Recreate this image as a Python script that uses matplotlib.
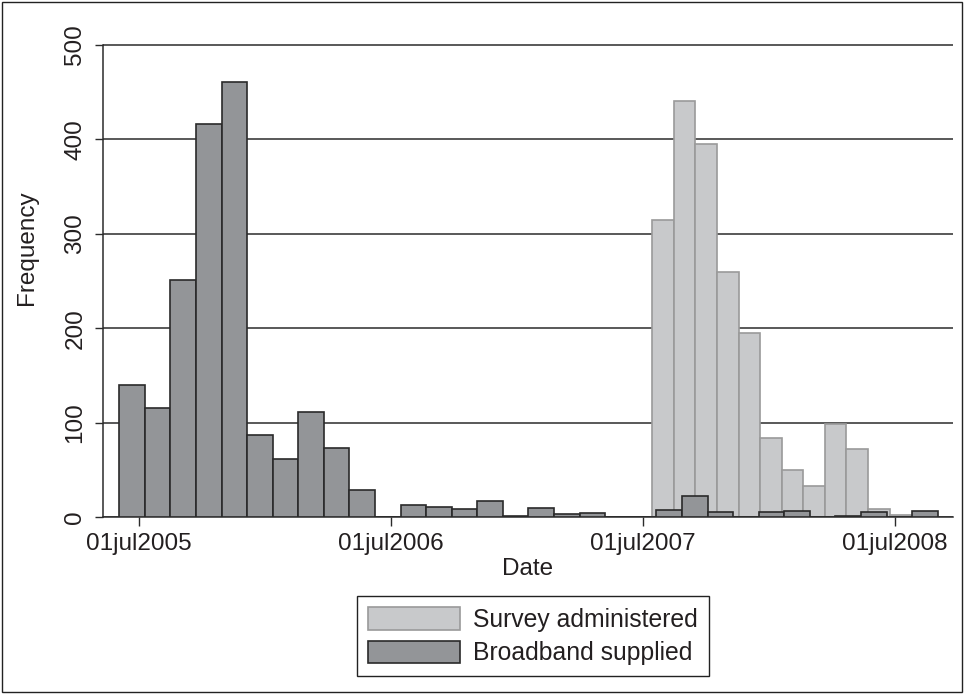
import matplotlib
matplotlib.use("Agg")
import matplotlib.pyplot as plt
import matplotlib.dates as mdates
import numpy as np
from matplotlib.patches import Rectangle, Patch

plt.rcParams['font.family'] = ['Liberation Sans', 'DejaVu Sans']

# broadband supplied: histogram bins (start date, width in days) and counts
bb_start = '2005-06-02'
bb_width = 37.09
bb_counts = [140, 115, 251, 416, 461, 87, 61, 111, 73, 29,
             0, 13, 11, 8, 17, 1, 10, 3, 4, 0,
             0, 7, 22, 5, 0, 5, 6, 0, 1, 5, 0, 6]

# survey administered
sv_start = '2007-07-15'
sv_width = 31.28
sv_counts = [315, 441, 395, 260, 195, 84, 50, 33, 99, 72, 9, 2]

tick_dates = ['2005-07-01', '2006-07-01', '2007-07-01', '2008-07-01']
tick_labels = ['01jul2005', '01jul2006', '01jul2007', '01jul2008']
y_ticks = [0, 100, 200, 300, 400, 500]

light = '#c8c9cb'
light_edge = '#9a9a9a'
dark = '#939598'
dark_edge = '#2a2a2a'

fig = plt.figure(figsize=(9.64, 6.94), dpi=100)
ax = fig.add_axes([103 / 964, 177 / 694, 850 / 964, 476.7 / 694])

bb_x = mdates.datestr2num(bb_start) + np.arange(len(bb_counts)) * bb_width
sv_x = mdates.datestr2num(sv_start) + np.arange(len(sv_counts)) * sv_width

ax.bar(sv_x, sv_counts, width=sv_width, align='edge', color=light,
       edgecolor=light_edge, linewidth=1.2, zorder=2)
ax.bar(bb_x, bb_counts, width=bb_width, align='edge', color=dark,
       edgecolor=dark_edge, linewidth=1.2, zorder=3)

ax.set_xlim(mdates.datestr2num('2005-07-01') - 52.6,
            mdates.datestr2num('2008-07-01') + 84.1)
ax.set_ylim(0, 505)

ax.set_xticks(mdates.datestr2num(tick_dates), tick_labels)
ax.set_yticks(y_ticks)
ax.yaxis.grid(True, color='#2b2b2b', linewidth=1.1)
ax.set_axisbelow(True)

for s in ['top', 'right']:
    ax.spines[s].set_visible(False)
for s in ['left', 'bottom']:
    ax.spines[s].set_color('#2b2b2b')
    ax.spines[s].set_linewidth(1.1)
ax.spines['left'].set_bounds(0, 500)

ax.tick_params(axis='x', length=6.5, width=1, color='#2b2b2b', pad=5,
               labelsize=17.5, labelcolor='#231f20')
ax.tick_params(axis='y', length=6, width=1, color='#2b2b2b', pad=6,
               labelsize=17.5, labelcolor='#231f20')
for lab in ax.get_yticklabels():
    lab.set_rotation(90)
    lab.set_va('center')

ax.set_xlabel('Date', fontsize=17.5, color='#231f20', labelpad=2)
ax.set_ylabel('Frequency', fontsize=17.5, color='#231f20')
ax.yaxis.set_label_coords(-0.076, 0.566)

handles = [Patch(facecolor=light, edgecolor=light_edge, linewidth=1.2),
           Patch(facecolor=dark, edgecolor=dark_edge, linewidth=1.2)]
leg = fig.legend(handles, ['Survey administered', 'Broadband supplied'],
                 loc='upper center', bbox_to_anchor=(533 / 964, 1 - 584 / 694),
                 fontsize=17.8, handlelength=3.72, handleheight=1.0,
                 fancybox=False, framealpha=1, edgecolor='#222222',
                 borderpad=0.45, labelspacing=0.35, handletextpad=0.55)
leg.get_frame().set_linewidth(1.0)
for t in leg.get_texts():
    t.set_color('#231f20')

fig.patches.append(Rectangle((2 / 964, 2 / 694), 960 / 964, 690 / 694,
                             transform=fig.transFigure, fill=False,
                             edgecolor='#222222', linewidth=1.0))

fig.savefig('out.png', dpi=100)
